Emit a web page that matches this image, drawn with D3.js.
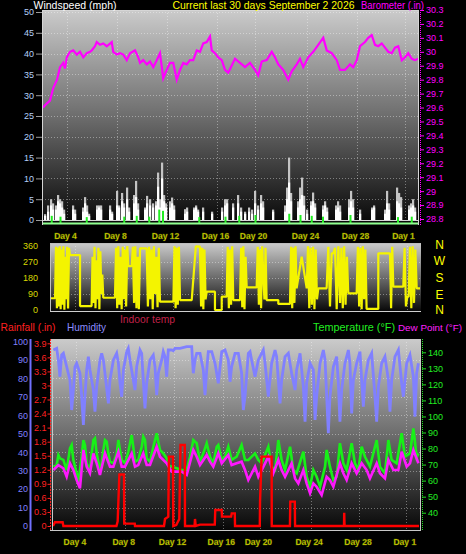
<!DOCTYPE html>
<html><head><meta charset="utf-8">
<script src="https://cdn.jsdelivr.net/npm/d3@7"></script>
<style>body{margin:0;background:#000}svg{display:block}text{font-family:"Liberation Sans",Arial,sans-serif}</style>
</head><body><svg id="c" width="466" height="554"></svg>
<script>
// ---------------- DATA ----------------
const dayTicks = [1.92, 5.92, 9.92, 13.92, 16.96, 21.12, 25.12, 28.96];
const dayLabels = ["Day 4", "Day 8", "Day 12", "Day 16", "Day 20", "Day 24", "Day 28", "Day 1"];

// barometer [day, inHg]
const baro = [[0,29.60],[0.32,29.63],[0.56,29.65],[0.82,29.74],[1.12,29.80],[1.36,29.89],[1.62,29.92],[1.76,29.88],[1.9,29.96],[2.16,30.00],[2.42,30.01],[2.7,29.98],[2.96,30.00],[3.22,29.96],[3.5,29.99],[3.76,30.00],[3.9,30.01],[4.16,30.04],[4.3,30.07],[4.56,30.05],[4.82,30.06],[5.1,30.04],[5.5,30.07],[5.62,30.00],[5.9,29.98],[6.16,29.99],[6.42,29.98],[6.7,29.94],[6.96,29.99],[7.36,30.01],[7.62,29.96],[7.76,29.92],[8.02,29.94],[8.3,29.91],[8.56,29.93],[8.82,29.89],[9.1,29.94],[9.36,29.99],[9.62,29.81],[9.9,29.87],[10.16,29.92],[10.42,29.92],[10.7,29.80],[10.96,29.87],[11.22,29.92],[11.5,29.91],[11.76,29.94],[12.02,29.94],[12.3,30.01],[12.56,30.00],[12.82,30.06],[13.1,30.07],[13.36,30.11],[13.5,30.01],[13.76,29.99],[14.02,29.96],[14.3,29.94],[14.56,29.87],[14.82,29.85],[15.36,29.95],[15.76,29.92],[16.16,29.89],[16.56,29.92],[16.96,29.87],[17.22,29.83],[17.5,29.93],[17.9,29.94],[18.3,30.00],[18.56,29.96],[18.82,29.91],[19.22,29.87],[19.62,29.80],[19.9,29.86],[20.3,29.91],[20.56,29.95],[20.82,29.89],[21.22,29.96],[21.62,30.00],[22.02,30.05],[22.42,30.10],[22.7,30.01],[23.1,29.99],[23.5,29.94],[23.76,29.87],[24.16,29.87],[24.56,29.91],[24.82,29.89],[25.1,29.94],[25.36,30.04],[25.76,30.07],[26.02,30.10],[26.3,30.12],[26.56,30.05],[26.82,30.04],[27.1,30.06],[27.36,30.03],[27.62,30.00],[27.9,29.99],[28.16,30.03],[28.42,30.04],[28.7,29.94],[28.96,29.96],[29.22,29.99],[29.5,29.95],[29.76,29.94],[30,29.95]];

// wind [day, gust mph, speed mph]
const wind = [[0.16,1.4,1.0],[0.4,3.5,2],[0.64,5.0,3.5],[0.8,4,2.5],[1.04,3.5,2.5],[1.2,6,4.5],[1.36,5,4],[1.52,4.5,3],[1.68,2.5,1.5],
[2.4,3.5,2.5],[2.56,2.5,1.5],[3.2,3,2],[3.36,5.5,4],[3.52,3.5,2],[3.68,1.5,1],
[4.32,3.5,2.5],[4.48,3.5,3],[4.64,3.5,2.5],[5.36,3.5,2.5],[5.52,2,1.5],
[5.92,7,3.5],[6.08,3.5,3],[6.32,6.5,4.5],[6.48,4,3],[6.72,7.8,5],[6.88,3,2],
[7.28,6,4],[7.44,9.4,5.5],[7.6,4,2.5],[8.16,3,2.5],[8.32,5.8,4],[8.56,5,3.5],[8.8,4,3],
[9.04,4.5,3.5],[9.2,11.4,8],[9.36,5,3],[9.52,13.8,10],[9.68,6,4.5],[9.84,4,3],
[10.16,4.5,3],[10.32,5.4,4],[10.48,3.5,2.5],[11.36,2.6,1.5],[11.52,3,2],
[12.08,3,2.5],[12.24,3.5,3],[12.4,2.5,2],[12.8,3,2],[13.52,2,1.5],
[14.32,3,2],[14.56,5,3.5],[14.72,5,4],[15.2,4,3],[15.6,6,4],[15.84,3,2],
[16.16,2,1.5],[16.48,3,2],[16.72,2.5,1.5],[16.96,7,4],[17.2,3.5,2.5],[17.44,6,4],[17.6,4.5,3],
[18.4,2.5,2],[19.36,3.5,2],[19.52,7.8,5],[19.68,15,9],[19.84,6.5,4.5],
[20.4,4.5,3],[20.56,7.8,5],[20.72,10.2,6],[20.88,5.8,3.5],[21.12,2.5,1.5],
[21.44,4.5,3.5],[21.6,6.6,4.5],[21.76,4,3],[22.4,3.5,2.5],[22.56,4.5,3.5],[22.72,3,2],
[23.44,3.5,2.5],[23.6,4.5,3],[23.76,3.5,2],[24.48,5,3],[24.64,7,4.5],[24.8,5,3],
[25.36,2.5,1.5],[26.32,3,2.5],[26.48,3.5,3],[27.36,2.5,1.5],[27.52,7,4],[27.68,4,2.5],
[28.32,7.8,4.5],[28.48,6.5,4],[28.64,5.5,3],[29.28,3.5,2.5],[29.44,4,3],[29.6,5,3.5],[29.76,3,2]];

// average wind [day, mph]
const windAvg = [[0.7,1],[1.4,0.8],[3.5,0.7],[6.5,0.8],[7.5,1],[8.5,0.8],[9.3,2.5],[9.6,2.2],[12.5,0.7],[14.6,0.8],[15.7,1],[17.0,1.2],[19.7,1.5],[20.6,1.2],[21.5,1],[22.4,0.8],[24.6,1.2],[28.4,0.7],[29.5,0.8]];

// wind direction runs [startDay, endDay, [degrees read along the run]]
const dirRuns = [
 [0,0.33,[66]],
 [0.33,1.54,[66,355,10,350,20,358,5,340,30,359,2,300,60,355,8,350,309]],
 [1.54,2.36,[309]],
 [2.36,3.3,[22]],
 [3.3,4.25,[22,300,40,355,10,280,60,350,5,330,90,200,69]],
 [4.25,5.2,[69]],
 [5.2,6.29,[69,350,10,358,30,300,5,355,60,340,20,359,247]],
 [6.29,6.56,[247]],
 [6.56,7.24,[247,355,40,358,10,300,5,347]],
 [7.24,7.78,[347]],
 [7.78,8.86,[347,20,355,60,340,5,358,90,300,15,350,47]],
 [8.86,9.95,[47]],
 [9.95,10.49,[47,359,10,350,30,355,56]],
 [10.49,11.44,[56]],
 [11.44,12.11,[56,358,356]],
 [12.11,12.66,[356,20,350,5,340,60,103]],
 [12.66,13.33,[103]],
 [13.33,13.88,[0]],
 [13.88,14.28,[75]],
 [14.28,14.82,[75,355,10,340,30,358,56]],
 [14.82,15.37,[56]],
 [15.37,15.91,[56,350,15,358,5,300,127]],
 [15.91,16.72,[127]],
 [16.72,17.53,[127,355,30,340,10,358,200,60,350,56]],
 [17.53,18.48,[56]],
 [18.48,19.43,[34]],
 [19.43,19.97,[34,355,10,350,40,358,122]],
 [19.97,20.79,[122,300,122]],
 [20.79,21.73,[122,359,10,350,30,355,5,340,60,122]],
 [21.73,22.41,[122]],
 [22.41,23.5,[122,355,20,319,319,350,5,358,40]],
 [23.5,24.17,[40,350,10,358,30,300,94]],
 [24.17,24.85,[94]],
 [24.85,25.66,[94,355,20,350,5,358,60,340,6]],
 [25.66,26.61,[6]],
 [26.61,27.56,[319]],
 [27.56,27.83,[319,10,355,131]],
 [27.83,28.64,[131]],
 [28.64,29.73,[131,350,20,75,75,355,10,358,40,340,122]],
 [29.73,30,[122]]
];

// rainfall [day, in]
const rain = [[0,0],[0.16,0.08],[0.79,0.08],[0.85,0],[5.2,0],[5.3,0.1],[5.44,1.1],[5.82,1.1],[5.84,0.05],[6.7,0.05],[6.72,0],[9.1,0],[9.18,0.15],[9.45,0.2],[9.5,1.48],[9.84,1.48],[9.86,0],[10.1,0.02],[10.35,0.15],[10.45,1.73],[10.8,1.73],[10.82,0],[11.6,0],[11.64,0.15],[11.7,0],[12.05,0.03],[13.26,0.03],[13.3,0.34],[13.83,0.34],[13.85,0.2],[14.6,0.2],[14.65,0.27],[14.9,0.27],[14.92,0],[16.95,0],[16.97,0.52],[17.1,1.48],[17.92,1.48],[17.93,0],[19.42,0],[19.45,0.52],[19.82,0.52],[19.84,0],[23.85,0],[23.87,0.28],[23.9,0],[30,0]];

// humidity [day, %]
const humidity = [[0.03,95.3],[0.3,96.2],[0.44,89.9],[0.57,80.8],[0.71,92.6],[0.85,93.5],[1.12,86.2],[1.39,79],[1.53,62.8],[1.67,73.6],[1.8,86.2],[1.94,88.1],[2.21,82.7],[2.35,70],[2.49,54.7],[2.62,70],[2.76,84.5],[2.9,91.7],[3.03,84.5],[3.31,73.6],[3.44,61.9],[3.58,75.4],[3.85,89.9],[3.99,93.5],[4.13,89.9],[4.4,74.6],[4.54,66.4],[4.67,79],[4.95,89.9],[5.22,93.5],[5.36,88.1],[5.49,77.3],[5.63,70],[5.77,84.5],[6.04,94.4],[6.17,96.2],[6.31,89.9],[6.58,79],[6.72,73.6],[6.86,86.2],[7.13,95.3],[7.27,93.5],[7.4,79],[7.54,63.7],[7.68,77.3],[7.95,89.9],[8.22,92.6],[8.36,86.2],[8.5,70.9],[8.63,82.7],[8.91,89.9],[9.04,94.4],[9.18,91.7],[9.32,80.8],[9.45,95.3],[9.73,95.3],[9.86,94.9],[10,96.2],[10.41,96.2],[10.96,97.1],[11.37,97.1],[11.5,82.7],[11.64,89.9],[11.78,93.5],[12.05,93.5],[12.32,84.5],[12.46,70.9],[12.6,84.5],[12.73,94.4],[13.01,94.4],[13.28,88.1],[13.55,77.3],[13.83,94.4],[14.1,95.3],[14.37,89.9],[14.51,78.1],[14.64,86.2],[14.92,93.5],[15.19,93.5],[15.46,82.7],[15.6,62.8],[15.74,70],[16.01,93.5],[16.15,94.4],[16.28,89.9],[16.56,80.8],[16.83,89.9],[17.24,95.3],[17.38,88.1],[17.65,70],[17.92,88.1],[18.2,95.3],[18.33,91.7],[18.61,66.4],[18.74,79],[19.02,91.7],[19.29,93.5],[19.56,82.7],[19.84,73.6],[19.97,84.5],[20.25,93.5],[20.52,75.4],[20.66,56.5],[20.79,77.3],[21.07,88.1],[21.34,84.5],[21.48,57.4],[21.61,70],[21.89,88.1],[22.16,95.3],[22.3,89.9],[22.57,50.2],[22.7,70],[22.98,86.2],[23.25,91.7],[23.39,77.3],[23.52,56.5],[23.66,73.6],[23.93,88.1],[24.21,95.3],[24.34,88.1],[24.48,61],[24.62,79],[24.89,88.1],[25.16,94.4],[25.3,79],[25.44,64.6],[25.57,79],[25.85,89.9],[26.12,93.5],[26.39,70],[26.53,56.5],[26.67,75.4],[26.94,88.1],[27.21,91.7],[27.49,79],[27.62,61.9],[27.76,79],[28.03,91.7],[28.31,95.3],[28.58,77.3],[28.72,70],[28.99,88.1],[29.26,92.6],[29.54,80.8],[29.67,59.2],[29.81,82.7],[29.95,88.1]];

// temperature [day, °F]
const temperature = [[0.03,68.7],[0.3,69.7],[0.44,76],[0.57,73.9],[0.85,72.9],[1.12,66.6],[1.39,80.1],[1.53,82.2],[1.67,72.9],[1.94,64.6],[2.08,59.3],[2.21,66.6],[2.35,74.9],[2.49,85.3],[2.62,82.2],[2.76,70.8],[3.03,66.6],[3.17,77],[3.31,85.3],[3.44,86.4],[3.58,77],[3.85,66.6],[3.99,70.8],[4.13,79.1],[4.26,85.3],[4.4,84.3],[4.54,77],[4.67,71.8],[4.95,70.8],[5.22,77],[5.36,85.3],[5.49,79.1],[5.63,72.9],[5.9,70.8],[6.17,78],[6.45,88.4],[6.58,81.1],[6.72,71.8],[6.99,72.9],[7.27,81.1],[7.4,87.4],[7.54,85.3],[7.68,73.9],[7.95,71.8],[8.22,81.1],[8.5,89.5],[8.63,84.3],[8.77,79.1],[9.04,77],[9.32,73.9],[9.45,69.7],[9.73,68.7],[10.14,67.7],[10.55,66.6],[10.96,66.6],[11.23,74.9],[11.5,85.3],[11.78,83.3],[12.05,71.8],[12.32,77],[12.6,83.3],[12.87,74.9],[13.14,70.8],[13.42,81.1],[13.55,82.2],[13.83,72.9],[14.1,74.9],[14.37,81.1],[14.64,72.9],[15.05,74.9],[15.46,82.2],[15.74,72.9],[16.01,72.9],[16.56,77],[16.83,72.9],[17.1,70.8],[17.65,81.1],[17.92,68.7],[18.2,66.6],[18.47,85.3],[18.74,72.9],[19.02,66.6],[19.43,81.1],[19.7,66.6],[19.97,64.6],[20.52,78],[20.79,62.4],[21.07,56.2],[21.34,66.6],[21.61,62.4],[21.89,56.2],[22.3,68.7],[22.43,79.1],[22.7,68.7],[22.98,60.4],[23.25,62.4],[23.52,83.3],[23.8,70.8],[24.07,66.6],[24.48,83.3],[24.75,70.8],[25.03,66.6],[25.3,81.1],[25.57,74.9],[25.98,68.7],[26.53,85.3],[26.8,68.7],[27.21,64.6],[27.49,85.3],[27.76,72.9],[28.17,70.8],[28.58,89.5],[28.85,74.9],[29.26,77],[29.54,92.6],[29.81,74.9],[29.95,77]];

// dew point [day, °F]
const dewPoint = [[0.03,66.6],[0.44,69.7],[0.85,67.7],[1.12,62.4],[1.39,70.8],[1.67,66.6],[1.94,60.4],[2.21,55.2],[2.49,79.1],[2.76,68.7],[3.03,64.6],[3.31,77],[3.58,70.8],[3.85,63.5],[4.26,77],[4.67,68.7],[4.95,68.7],[5.36,78],[5.63,68.7],[5.9,68.7],[6.45,77],[6.72,68.7],[6.99,69.7],[7.4,77],[7.68,69.7],[7.95,69.7],[8.5,81.1],[8.77,74.9],[9.32,70.8],[9.73,65.6],[10.55,65.6],[10.96,63.5],[11.5,79.1],[11.78,74.9],[12.05,69.7],[12.6,76],[12.87,71.8],[13.14,68.7],[13.55,77],[13.83,70.8],[14.37,76],[14.64,69.7],[15.05,70.8],[15.46,71.8],[15.74,66.6],[16.01,60.4],[16.56,68.7],[16.83,62.4],[17.38,70.8],[17.65,74.9],[18.06,64.6],[18.47,72.9],[18.74,66.6],[19.02,62.4],[19.56,70.8],[19.84,61.4],[20.11,58.3],[20.52,66.6],[20.79,58.3],[21.07,52.1],[21.34,58.3],[21.61,56.2],[22.02,51],[22.43,62.4],[22.7,60.4],[22.98,56.2],[23.52,70.8],[23.8,64.6],[24.07,60.4],[24.48,70.8],[24.89,64.6],[25.3,70.8],[25.71,66.6],[25.98,61.4],[26.53,70.8],[26.8,64.6],[27.21,61.4],[27.49,72.9],[27.9,66.6],[28.31,66.6],[28.58,78],[28.99,68.7],[29.26,70.8],[29.54,79.1],[29.95,70.8]];

const windTicks = d3.range(0, 51, 5);
const baroTicks = d3.range(0, 16).map(i => +(28.8 + i * 0.1).toFixed(1));
const dirTicks = [0, 90, 180, 270, 360];
const humTicks = d3.range(0, 101, 10);
const rainTicks = d3.range(0, 14).map(i => +(i * 0.3).toFixed(1));
const tempTicks = d3.range(40, 141, 10);
const compass = ["N", "W", "S", "E", "N"];

// ---------------- DRAW ----------------
const FONT = "Liberation Sans, Arial, sans-serif";
const svg = d3.select("#c");
svg.append("rect").attr("width", 466).attr("height", 554).attr("fill", "#000");
const defs = svg.append("defs");
const grad = defs.append("linearGradient").attr("id", "bg").attr("x1", 0).attr("y1", 0).attr("x2", 0).attr("y2", 1);
grad.append("stop").attr("offset", 0).attr("stop-color", "#cbcbcb");
grad.append("stop").attr("offset", 0.5).attr("stop-color", "#6c6c6c");
grad.append("stop").attr("offset", 1).attr("stop-color", "#060606");

function panel(x0, y0, x1, y1, id) {
  defs.append("clipPath").attr("id", id).append("rect").attr("x", x0).attr("y", y0).attr("width", x1 - x0).attr("height", y1 - y0);
  svg.append("rect").attr("x", x0).attr("y", y0).attr("width", x1 - x0).attr("height", y1 - y0).attr("fill", "url(#bg)");
  return svg.append("g").attr("clip-path", `url(#${id})`);
}
const gridStyle = s => s.attr("stroke", "rgba(255,255,255,0.38)").attr("stroke-width", 1).attr("stroke-dasharray", "1,2");

// ---- top panel ----
const xTop = d3.scaleLinear([0, 30], [43, 418]);
const yWind = d3.scaleLinear([0, 50], [220, 12]);
const yBaro = d3.scaleLinear([28.8, 30.3], [219, 10]);
const gT = panel(42, 10, 419, 225, "cT");
gT.selectAll(".hg").data(windTicks.slice(1)).join("line").attr("x1", 42).attr("x2", 419)
  .attr("y1", d => Math.round(yWind(d)) + 0.5).attr("y2", d => Math.round(yWind(d)) + 0.5).call(gridStyle);
gT.selectAll(".vg").data(dayTicks).join("line").attr("x1", d => Math.round(xTop(d)) + 0.5).attr("x2", d => Math.round(xTop(d)) + 0.5)
  .attr("y1", 10).attr("y2", 225).call(gridStyle);
gT.selectAll(".gust").data(wind).join("rect").attr("x", d => xTop(d[0]) - 1).attr("width", 2.2)
  .attr("y", d => yWind(d[1])).attr("height", d => yWind(0) - yWind(d[1])).attr("fill", "#c4c4c4");
gT.selectAll(".spd").data(wind).join("rect").attr("x", d => xTop(d[0]) - 1).attr("width", 2.2)
  .attr("y", d => yWind(d[2])).attr("height", d => yWind(0) - yWind(d[2])).attr("fill", "#ffffff");
gT.append("line").attr("x1", 42).attr("x2", 419).attr("y1", 220.5).attr("y2", 220.5).attr("stroke", "#d8d8d8");
gT.selectAll(".avg").data(windAvg).join("rect").attr("x", d => xTop(d[0]) - 1).attr("width", 2)
  .attr("y", d => yWind(d[1])).attr("height", d => yWind(0) - yWind(d[1]) + 3).attr("fill", "#22ee22");
gT.append("line").attr("x1", 42).attr("x2", 419).attr("y1", 223.5).attr("y2", 223.5).attr("stroke", "#90ff90").attr("stroke-width", 2);
gT.append("path").datum(baro).attr("fill", "none").attr("stroke", "#ff00ff").attr("stroke-width", 2.2)
  .attr("d", d3.line().x(d => xTop(d[0])).y(d => yBaro(d[1])));
svg.append("path").attr("d", "M42.5,225V10.5H418.5V225").attr("fill", "none").attr("stroke", "#d6d6d6");

// wind axis
const axW = svg.append("g").attr("transform", "translate(42,0)");
axW.call(d3.axisLeft(yWind).tickValues(d3.range(0, 51, 1)).tickSize(3).tickFormat(""));
axW.call(d3.axisLeft(yWind).tickValues(windTicks).tickSize(6).tickPadding(2));
axW.select(".domain").remove();
axW.selectAll("line").attr("stroke", "#9a9a9a");
axW.selectAll("text").attr("fill", "#b4d0f8").attr("font-size", 9).attr("font-family", FONT);
// barometer axis
const axB = svg.append("g").attr("transform", "translate(420,0)");
axB.call(d3.axisRight(yBaro).tickValues(baroTicks).tickSize(4).tickPadding(2).tickFormat(d => String(+d.toFixed(1))));
axB.select(".domain").remove();
axB.append("line").attr("x1", 0.5).attr("x2", 0.5).attr("y1", 10).attr("y2", 225).attr("stroke", "#ff00ff").attr("stroke-dasharray", "1,1");
axB.selectAll(".tick line").attr("stroke", "#ff00ff");
axB.selectAll("text").attr("fill", "#ff00ff").attr("font-size", 9).attr("font-family", FONT);

// day labels
function dayLabelRow(xs, y) {
  svg.append("g").selectAll("text").data(dayTicks).join("text")
    .attr("x", d => xs(d) - 1.5).attr("y", y).attr("text-anchor", "middle")
    .attr("font-size", 8.5).attr("font-weight", "bold").attr("fill", "#e6e600")
    .attr("stroke", "#506000").attr("stroke-width", 0.3)
    .text((d, i) => dayLabels[i]);
}
dayLabelRow(xTop, 238.5);

// ---- middle panel ----
const xMid = d3.scaleLinear([0, 30], [51, 420]);
const yDir = d3.scaleLinear([0, 360], [310, 246]);
const gM = panel(50, 243, 421, 312, "cM");
gM.selectAll(".hg").data([90, 180, 270]).join("line").attr("x1", 50).attr("x2", 421)
  .attr("y1", d => Math.round(yDir(d)) + 0.5).attr("y2", d => Math.round(yDir(d)) + 0.5).call(gridStyle);
gM.selectAll(".vg").data(dayTicks).join("line").attr("x1", d => Math.round(xMid(d)) + 0.5).attr("x2", d => Math.round(xMid(d)) + 0.5)
  .attr("y1", 243).attr("y2", 312).call(gridStyle);
const dirPts = [];
dirRuns.forEach(([t0, t1, vals]) => {
  if (vals.length === 1) { dirPts.push([t0, vals[0]], [t1, vals[0]]); }
  else vals.forEach((v, i) => dirPts.push([t0 + (t1 - t0) * i / (vals.length - 1), v]));
});
gM.append("path").datum(dirPts).attr("fill", "none").attr("stroke", "#f4f400").attr("stroke-width", 2.2)
  .attr("stroke-linejoin", "bevel")
  .attr("d", d3.line().x(d => xMid(d[0])).y(d => yDir(d[1])));
svg.append("path").attr("d", "M50.5,312V243.5H420.5").attr("fill", "none").attr("stroke", "#bdbdbd");
svg.append("line").attr("x1", 50).attr("x2", 421).attr("y1", 311.5).attr("y2", 311.5).attr("stroke", "#d0d0d0");
const axD = svg.append("g").attr("transform", "translate(48,0)");
axD.call(d3.axisLeft(yDir).tickValues(dirTicks).tickSize(0).tickPadding(10));
axD.select(".domain").remove();
axD.selectAll("text").attr("fill", "#d8d800").attr("font-size", 9).attr("font-family", FONT);
svg.append("g").selectAll("text").data(compass).join("text")
  .attr("x", 439.5).attr("y", (d, i) => [249, 264.5, 282, 299, 313.5][i]).attr("text-anchor", "middle")
  .attr("font-size", 12).attr("fill", "#ffff00").text(d => d);

// ---- titles & legends ----
function label(txt, x, y, w, color, size) {
  svg.append("text").attr("x", x).attr("y", y).attr("font-size", size || 10.5).attr("fill", color)
    .attr("textLength", w).attr("lengthAdjust", "spacingAndGlyphs").text(txt);
}
label("Windspeed (mph)", 33.5, 9, 83, "#ffffff");
label("Current last 30 days September 2 2026", 172.5, 9, 182, "#ffff00");
label("Barometer (.in)", 361, 9, 63, "#ff00ff", 10);
label("Rainfall (.in)", 0.5, 330.5, 55, "#ff2020");
label("Humidity", 67, 330.5, 39, "#8c8cff");
label("Indoor temp", 120, 323, 55, "#c02048");
label("Temperature (°F)", 313, 330.5, 82, "#22ee22");
label("Dew Point (°F)", 398, 330.5, 64, "#ff22ff", 9.8);

// ---- bottom panel ----
const xBot = d3.scaleLinear([0, 30], [53, 419]);
const yHum = d3.scaleLinear([0, 100], [526, 341.3]);
const yRain = d3.scaleLinear([0, 3.9], [526, 343.3]);
const yTemp = d3.scaleLinear([40, 140], [512.7, 352.3]);
const gB = panel(50, 339, 421, 531, "cB");
gB.selectAll(".hg").data(humTicks.slice(1, 10)).join("line").attr("x1", 50).attr("x2", 421)
  .attr("y1", d => Math.round(yHum(d)) + 0.5).attr("y2", d => Math.round(yHum(d)) + 0.5).call(gridStyle);
gB.selectAll(".vg").data(dayTicks).join("line").attr("x1", d => Math.round(xBot(d)) + 0.5).attr("x2", d => Math.round(xBot(d)) + 0.5)
  .attr("y1", 339).attr("y2", 531).call(gridStyle);
const lineB = y => d3.line().x(d => xBot(d[0])).y(d => y(d[1]));
gB.append("path").datum(humidity).attr("fill", "none").attr("stroke", "#8080ff").attr("stroke-width", 2.8).attr("d", lineB(yHum));
gB.append("path").datum(temperature).attr("fill", "none").attr("stroke", "#18f018").attr("stroke-width", 2.6).attr("d", lineB(yTemp));
gB.append("path").datum(dewPoint).attr("fill", "none").attr("stroke", "#ff18ff").attr("stroke-width", 2.6).attr("d", lineB(yTemp));
gB.append("path").datum(rain).attr("fill", "none").attr("stroke", "#ff0000").attr("stroke-width", 2.4).attr("d", lineB(yRain));
svg.append("path").attr("d", "M52.5,531V339.5H420.5V531").attr("fill", "none").attr("stroke", "#c8c8c8");
svg.append("line").attr("x1", 50).attr("x2", 421).attr("y1", 530.5).attr("y2", 530.5).attr("stroke", "#c8c8c8");

// humidity axis
const axH = svg.append("g").attr("transform", "translate(31,0)");
axH.call(d3.axisLeft(yHum).tickValues(d3.range(0, 101, 2)).tickSize(3).tickFormat(""));
axH.call(d3.axisLeft(yHum).tickValues(humTicks).tickSize(0).tickPadding(3));
axH.select(".domain").remove();
axH.append("line").attr("x1", -0.5).attr("x2", -0.5).attr("y1", 339).attr("y2", 531).attr("stroke", "#7070ff").attr("stroke-width", 2);
axH.selectAll(".tick line").attr("stroke", "#7070ff");
axH.selectAll("text").attr("fill", "#8080ff").attr("font-size", 9).attr("font-family", FONT);
// rain axis
const axR = svg.append("g").attr("transform", "translate(50.5,0)");
axR.call(d3.axisLeft(yRain).tickValues(rainTicks).tickSize(3).tickPadding(1).tickFormat(d => String(+d.toFixed(1))));
axR.select(".domain").remove();
axR.append("line").attr("x1", 0).attr("x2", 0).attr("y1", 339).attr("y2", 531).attr("stroke", "#ff2020").attr("stroke-dasharray", "2,1");
axR.selectAll(".tick line").attr("stroke", "#ff2020");
axR.selectAll("text").attr("fill", "#ff2020").attr("font-size", 9).attr("font-family", FONT);
// temperature axis
const axT = svg.append("g").attr("transform", "translate(422,0)");
axT.call(d3.axisRight(yTemp).tickValues(tempTicks).tickSize(4).tickPadding(2));
axT.select(".domain").remove();
axT.append("line").attr("x1", 0.5).attr("x2", 0.5).attr("y1", 339).attr("y2", 531).attr("stroke", "#22dd22").attr("stroke-dasharray", "1,1");
axT.selectAll(".tick line").attr("stroke", "#22dd22");
axT.selectAll("text").attr("fill", "#22ee22").attr("font-size", 9).attr("font-family", FONT);

dayLabelRow(xBot, 544.5);
</script></body></html>
